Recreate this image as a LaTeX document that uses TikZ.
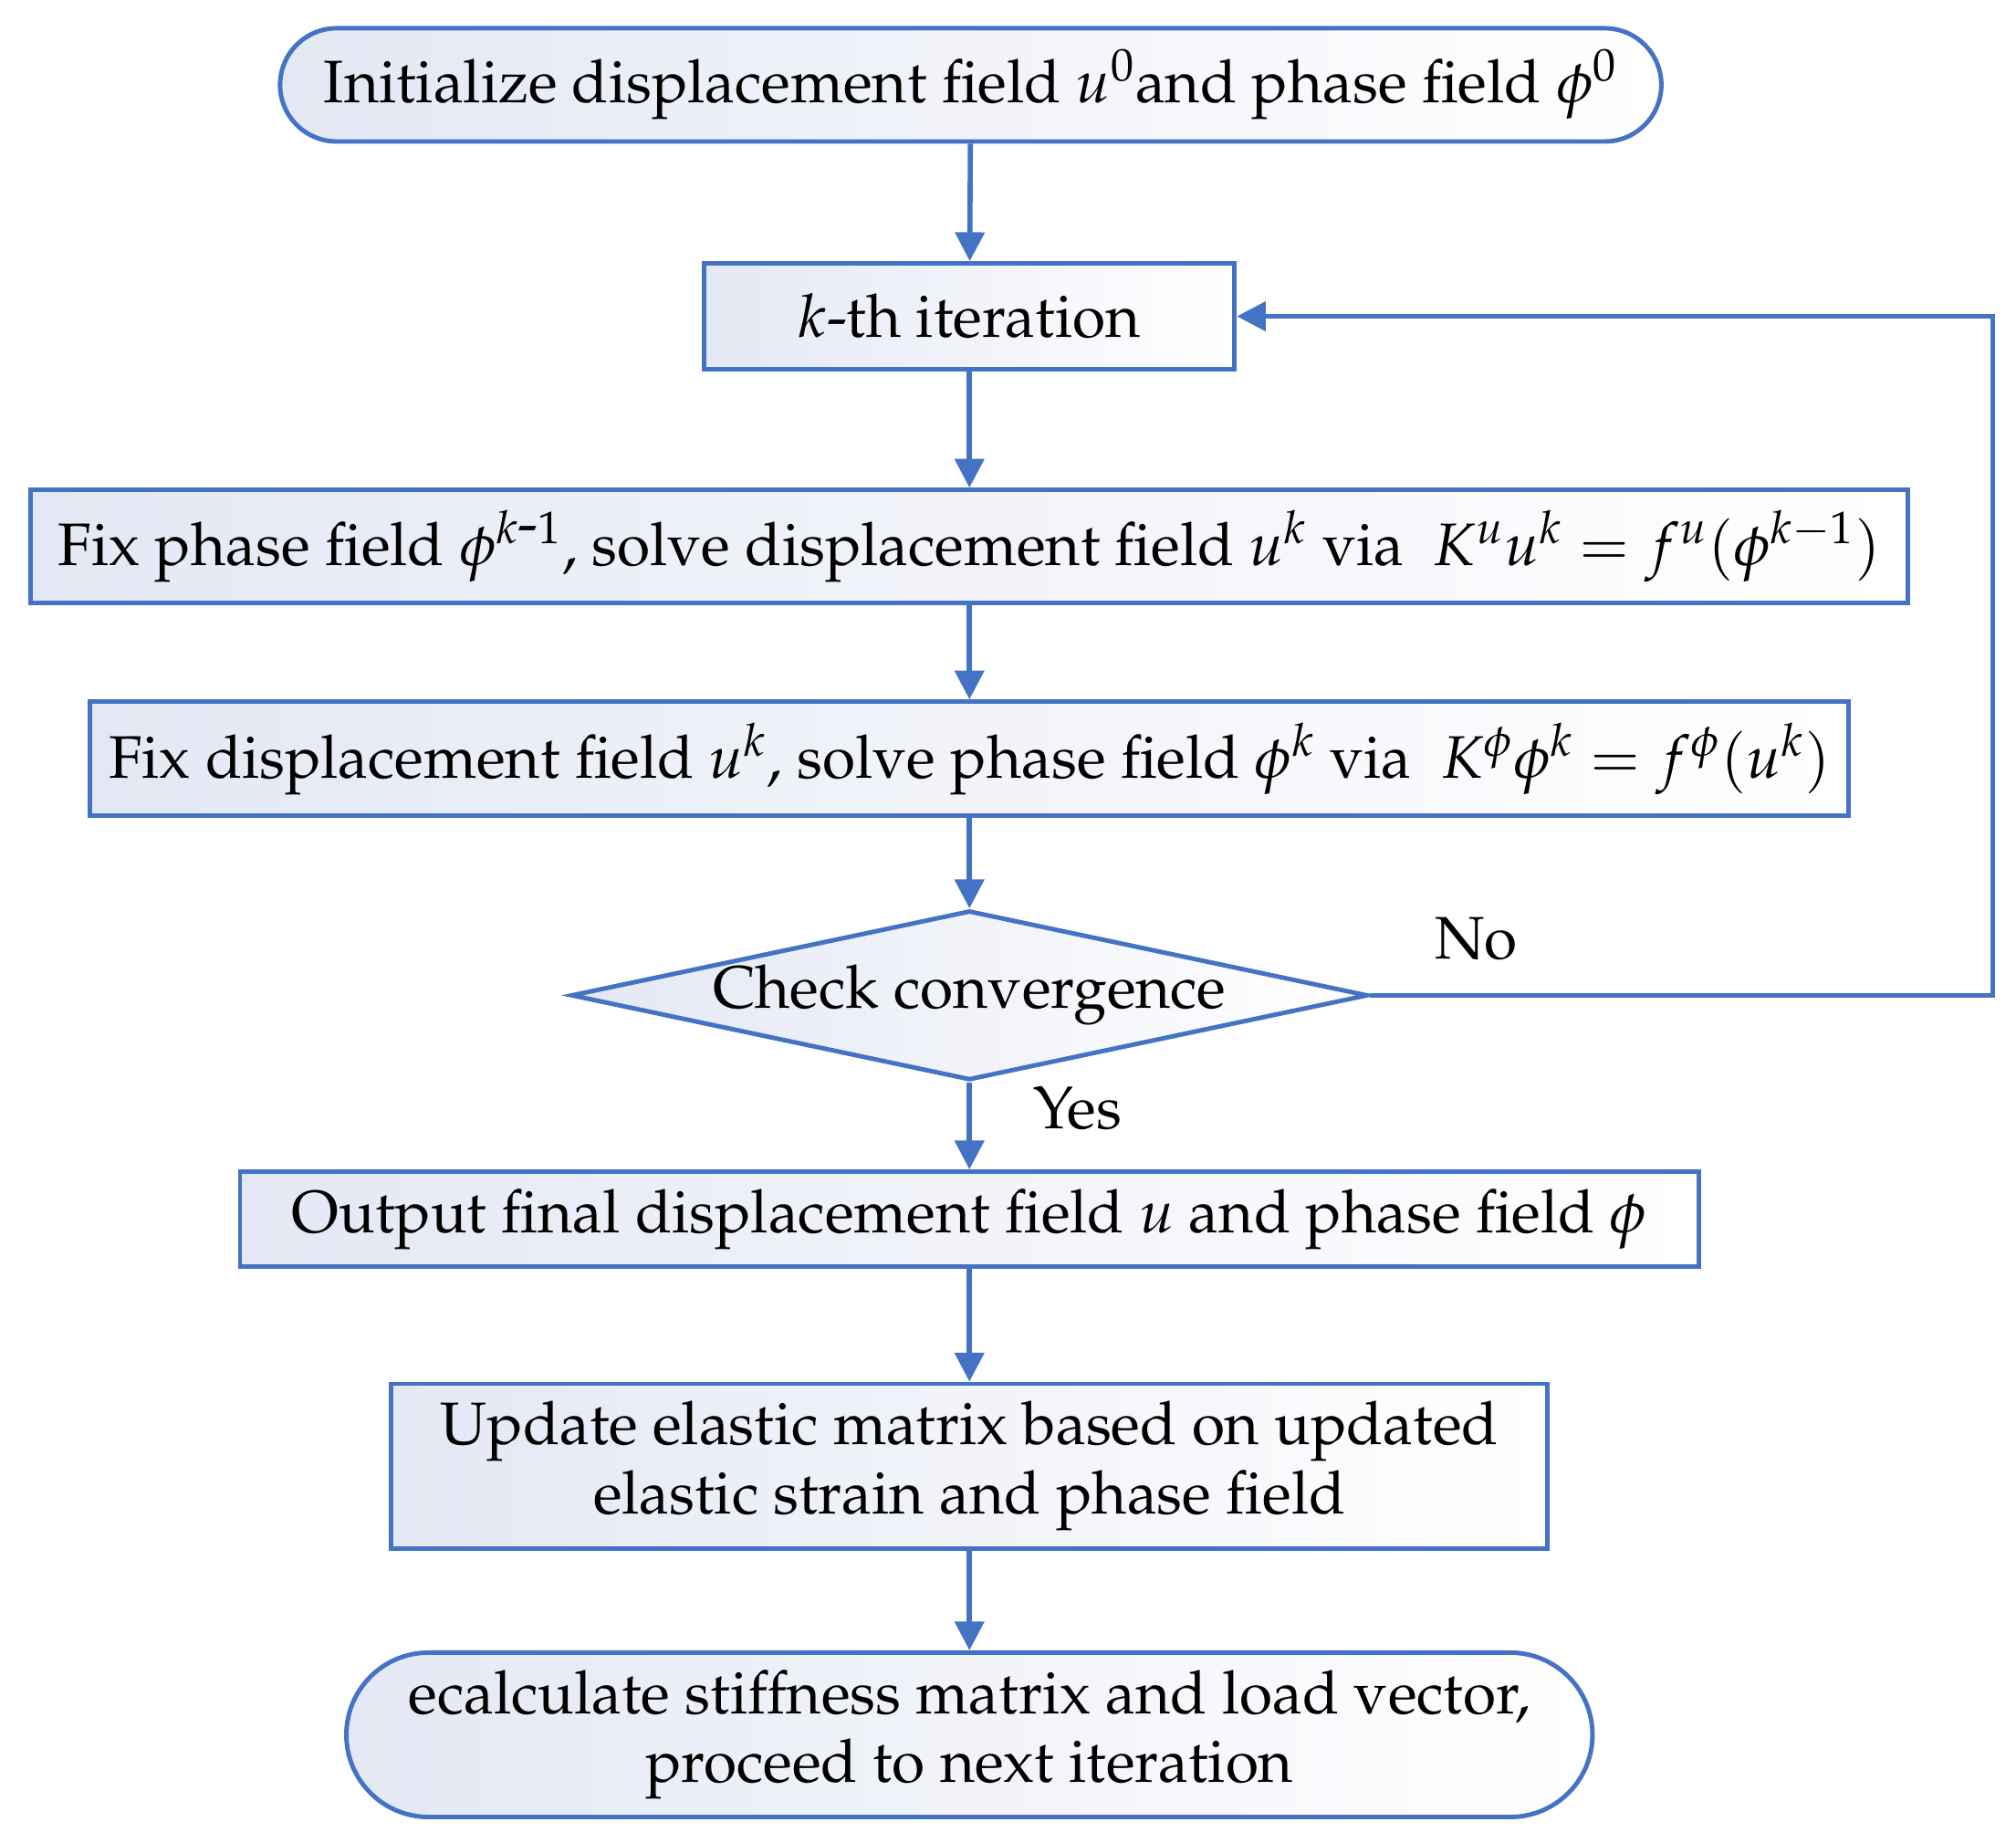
\documentclass[tikz,border=0pt]{standalone}
\usepackage[T1]{fontenc}
\usepackage{mathpazo}
\usetikzlibrary{shapes.geometric,arrows.meta}
\definecolor{edge}{HTML}{4472C4}
\definecolor{shade}{HTML}{E4E8F4}
\begin{document}
\begin{tikzpicture}[x=0.01409cm,y=-0.01409cm,
  every node/.style={font=\fontsize{18.7}{21.5}\selectfont},
  box/.style={draw=edge,line width=1.4pt,left color=shade,right color=white,
    align=center,inner sep=0pt},
  term/.style={box,rounded corners=0.62cm},
  arr/.style={draw=edge,line width=1.6pt,-{Triangle[length=9pt,width=9pt]}}]
\useasboundingbox (0,0) rectangle (1568,1433);
\node[term,minimum width=15.13cm,minimum height=1.24cm] (s) at (755,66)
  {Initialize displacement field $u^0$and phase field $\phi^0$};
\node[box,minimum width=5.81cm,minimum height=1.16cm] (k) at (754,246)
  {$k$-th iteration};
\node[box,minimum width=20.56cm,minimum height=1.24cm] (f1) at (754,425)
  {Fix phase field $\phi^{k\textrm{-}1}$, solve displacement field $u^k$ via \ $K^u u^k=f^u(\phi^{k-1})$};
\node[box,minimum width=19.26cm,minimum height=1.25cm] (f2) at (754,590)
  {Fix displacement field $u^k$, solve phase field $\phi^k$ via \ $K^\phi\phi^k=f^\phi(u^k)$};
\node[box,shape=diamond,aspect=4.7,minimum width=8.38cm,minimum height=1.79cm] (c) at (754,774)
  {Check convergence};
\node[box,minimum width=15.98cm,minimum height=1.04cm] (o) at (754,948)
  {Output final displacement field $u$ and phase field $\phi$};
\node[box,minimum width=12.67cm,minimum height=1.80cm] (u) at (754,1140)
  {Update elastic matrix based on updated\\elastic strain and phase field};
\node[term,minimum width=13.65cm,minimum height=1.80cm,rounded corners=0.9cm] (e) at (754,1349)
  {ecalculate stiffness matrix and load vector,\\proceed to next iteration};
\draw[arr] (s) -- (k);
\draw[arr] (k) -- (f1);
\draw[arr] (f1) -- (f2);
\draw[arr] (f2) -- (c);
\draw[arr] (c) -- (o);
\draw[arr] (o) -- (u);
\draw[arr] (u) -- (e);
\coordinate (r1) at (1550,774);
\coordinate (r2) at (1550,246);
\draw[arr] (c.east) -- (r1) -- (r2) -- (k.east);
\node (no) at (1148,730) {No};
\node (yes) at (838,862) {Yes};
\end{tikzpicture}
\end{document}
